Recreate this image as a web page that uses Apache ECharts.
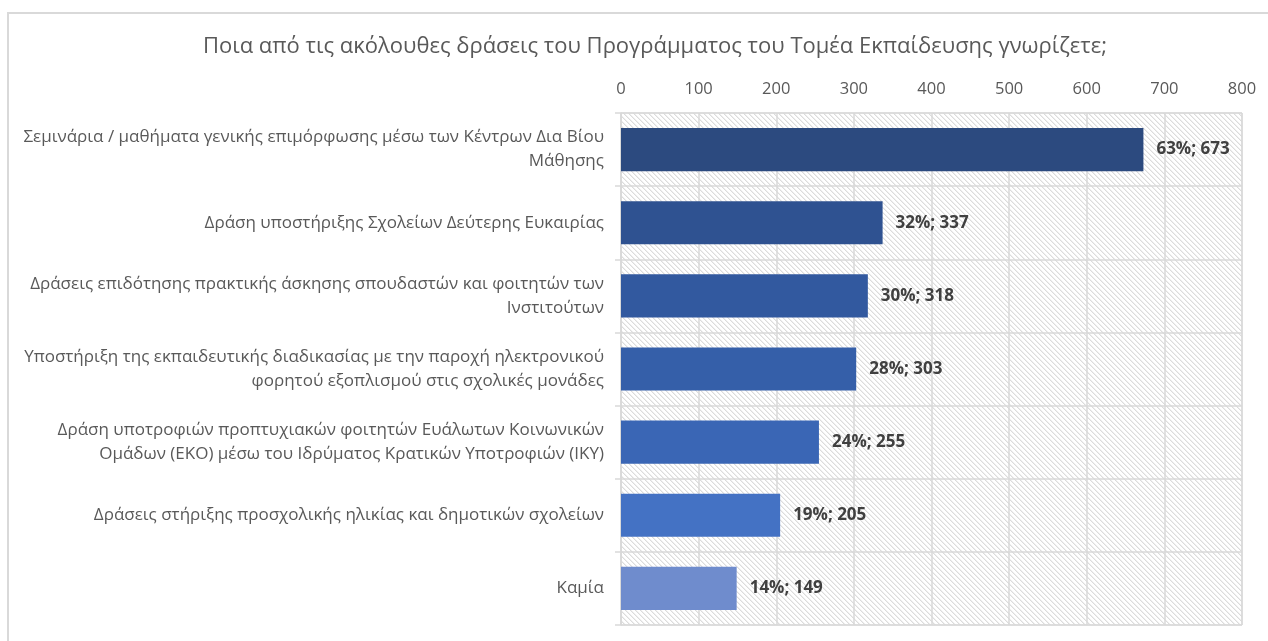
<!DOCTYPE html>
<html><head><meta charset="utf-8">
<script src="https://cdn.jsdelivr.net/npm/echarts@6/dist/echarts.min.js"></script>
<style>html,body{margin:0;padding:0;background:#fff}#c{width:1268px;height:641px}</style>
</head><body><div id="c"></div>
<script>
const titleText = 'Ποια από τις ακόλουθες δράσεις του Προγράμματος του Τομέα Εκπαίδευσης γνωρίζετε;';
const categories = [
  'Σεμινάρια / μαθήματα γενικής επιμόρφωσης μέσω των Κέντρων Δια Βίου\nΜάθησης',
  'Δράση υποστήριξης Σχολείων Δεύτερης Ευκαιρίας',
  'Δράσεις επιδότησης πρακτικής άσκησης σπουδαστών και φοιτητών των\nΙνστιτούτων',
  'Υποστήριξη της εκπαιδευτικής διαδικασίας με την παροχή ηλεκτρονικού\nφορητού εξοπλισμού στις σχολικές μονάδες',
  'Δράση υποτροφιών προπτυχιακών φοιτητών Ευάλωτων Κοινωνικών\nΟμάδων (ΕΚΟ) μέσω του Ιδρύματος Κρατικών Υποτροφιών (ΙΚΥ)',
  'Δράσεις στήριξης προσχολικής ηλικίας και δημοτικών σχολείων',
  'Καμία'
];
const counts = [673, 337, 318, 303, 255, 205, 149];
const percents = [63, 32, 30, 28, 24, 19, 14];
const barColors = ['#2C4A7F', '#2F5291', '#32599F', '#355FA9', '#3A66B5', '#4472C4', '#6F8CCD'];
const xTicks = { min: 0, max: 800, interval: 100 };

function hatch() {
  const c = document.createElement('canvas');
  const n = 5;
  c.width = n; c.height = n;
  const g = c.getContext('2d');
  g.fillStyle = '#ffffff'; g.fillRect(0, 0, n, n);
  g.fillStyle = '#dcdcdc';
  for (let i = 0; i < n; i++) { g.fillRect(i, i, 1, 1); }
  g.fillStyle = '#efefef';
  for (let i = 0; i < n; i++) { g.fillRect((i + 1) % n, i, 1, 1); }
  return c;
}

const chart = echarts.init(document.getElementById('c'), null, { renderer: 'canvas' });
const font = '"Open Sans", "Noto Sans", sans-serif';
chart.setOption({
  animation: false,
  backgroundColor: '#ffffff',
  textStyle: { fontFamily: font },
  graphic: [{
    type: 'rect', silent: true, z: -10,
    shape: { x: 8, y: 13, width: 1400, height: 800 },
    style: { fill: 'none', stroke: '#d9d9d9', lineWidth: 2 }
  }],
  title: {
    text: titleText, left: 650, textAlign: 'center', top: 31,
    textStyle: { fontFamily: font, fontSize: 22, fontWeight: 'normal', color: '#595959' }
  },
  grid: {
    left: 621, right: 26, top: 113, bottom: 16,
    show: true,
    backgroundColor: { image: hatch(), repeat: 'repeat' },
    borderColor: '#d9d9d9', borderWidth: 1
  },
  xAxis: {
    type: 'value', position: 'top',
    min: xTicks.min, max: xTicks.max, interval: xTicks.interval,
    axisLine: { show: false }, axisTick: { show: false },
    axisLabel: { color: '#595959', fontSize: 16.5, fontFamily: font, margin: 15 },
    splitLine: { show: true, lineStyle: { color: '#d9d9d9', width: 1.5 } }
  },
  yAxis: {
    type: 'category', inverse: true, data: categories,
    axisLine: { show: true, lineStyle: { color: '#d9d9d9', width: 1.5 } },
    axisTick: { show: true, length: 6, lineStyle: { color: '#d9d9d9', width: 1.5 } },
    splitLine: { show: true, lineStyle: { color: '#d9d9d9', width: 1.5 } },
    axisLabel: { color: '#595959', fontSize: 17, fontFamily: font, margin: 17, align: 'right', lineHeight: 24 }
  },
  series: [{
    type: 'bar',
    data: counts.map((v, i) => ({ value: v, itemStyle: { color: barColors[i] } })),
    barCategoryGap: '41%',
    label: {
      show: true, position: 'right', distance: 13,
      fontFamily: font, fontSize: 17, fontWeight: 'bold', color: '#404040',
      formatter: p => percents[p.dataIndex] + '%; ' + p.value
    }
  }]
});
</script></body></html>
